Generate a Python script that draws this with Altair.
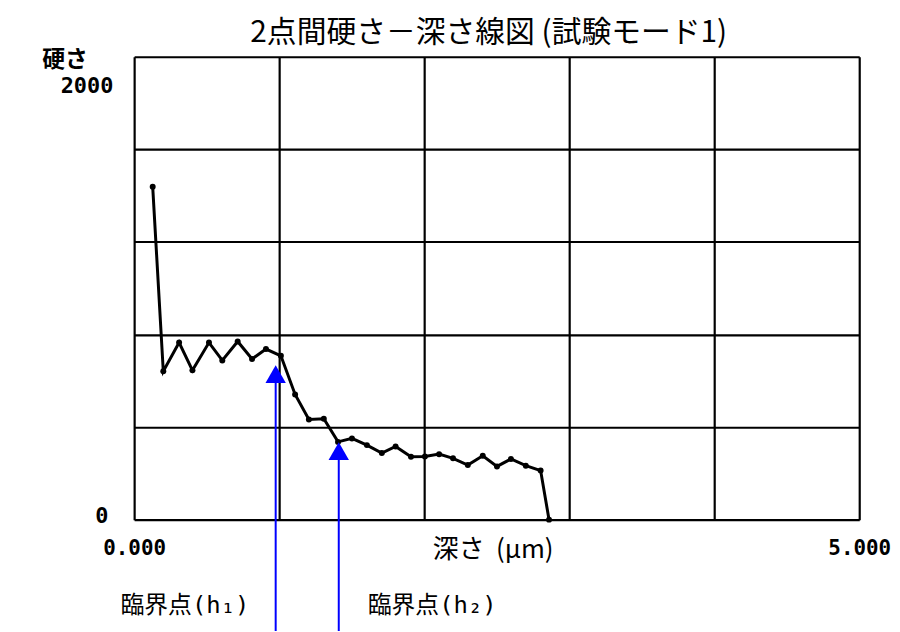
import altair as alt
import pandas as pd

# depth (μm) and hardness
depth = [0.128, 0.201, 0.310, 0.402, 0.516, 0.608, 0.714, 0.813, 0.909, 1.012,
         1.110, 1.205, 1.308, 1.406, 1.502, 1.605, 1.708, 1.803, 1.909, 2.005,
         2.103, 2.199, 2.301, 2.404, 2.502, 2.598, 2.701, 2.803, 2.861]
hardness = [1438, 641, 765, 645, 765, 688, 770, 694, 737, 708,
            541, 433, 436, 336, 351, 322, 288, 316, 272, 273,
            283, 265, 236, 276, 230, 262, 233, 212, 0]

# critical points (arrows)
crit_depth = [0.976, 1.411]
crit_head = [629, 296]
crit_label = ["臨界点(h₁)", "臨界点(h₂)"]
crit_label_x = [0.35, 2.055]

# y tick labels
ytick_vals = [0, 2000]
ytick_text = ["0", "2000"]

xgrid = [0, 1, 2, 3, 4, 5]
ygrid = [0, 400, 800, 1200, 1600, 2000]

curve = pd.DataFrame({"depth": depth, "hardness": hardness})
crit = pd.DataFrame({"d": crit_depth, "head": crit_head, "label": crit_label, "lx": crit_label_x})
yt = pd.DataFrame({"v": ytick_vals, "t": ytick_text})

MONO = "DejaVu Sans Mono"
JP = "Noto Sans CJK JP"
MIX = "DejaVu Sans Mono, Noto Sans CJK JP"

xscale = alt.Scale(domain=[0, 5], nice=False, zero=False)
yscale = alt.Scale(domain=[0, 2000], nice=False)

xaxis = alt.Axis(values=xgrid, grid=True, gridColor="black", gridWidth=2.2, gridOpacity=1,
                 ticks=False, tickSize=0, domain=False,
                 labelExpr="datum.value == 0 || datum.value == 5 ? format(datum.value, '.3f') : ''",
                 labelFlush=False, labelFont=MONO, labelFontWeight="bold", labelFontSize=21,
                 labelColor="black", labelBaseline="middle", labelPadding=29,
                 title="深さ\u00a0\u00a0(μm)", titleFont=JP, titleFontSize=26, titleFontWeight="normal",
                 titleColor="black", titleX=361, titleY=30, titleBaseline="middle",
                 titleAlign="center", titleAnchor="start")
yaxis = alt.Axis(values=ygrid, grid=True, gridColor="black", gridWidth=2.2, gridOpacity=1,
                 ticks=False, tickSize=0, domain=False, labels=False,
                 title="硬さ", titleFont=JP, titleFontSize=23, titleFontWeight="bold",
                 titleColor="black", titleAngle=0, titleX=-70, titleY=3,
                 titleBaseline="middle", titleAlign="center")

base = alt.Chart(curve)

line = base.mark_line(color="black", strokeWidth=3).encode(
    x=alt.X("depth:Q", scale=xscale, axis=xaxis),
    y=alt.Y("hardness:Q", scale=yscale, axis=yaxis),
)
pts = base.mark_point(filled=True, color="black", size=36, opacity=1).encode(
    x=alt.X("depth:Q", scale=xscale),
    y=alt.Y("hardness:Q", scale=yscale),
)

arrow_line = alt.Chart(crit).mark_rule(color="#0000ff", strokeWidth=2, clip=False).encode(
    x=alt.X("d:Q", scale=xscale),
    y=alt.Y("head:Q", scale=yscale),
    y2=alt.value(590),
)
arrow_head = alt.Chart(crit).mark_point(shape="triangle-up", filled=True, color="#0000ff",
                                         size=420, opacity=1, clip=False).encode(
    x=alt.X("d:Q", scale=xscale),
    y=alt.Y("head:Q", scale=yscale),
)
crit_text = alt.Chart(crit).mark_text(font=MIX, fontSize=24, color="black", align="center",
                                       baseline="middle").encode(
    x=alt.X("lx:Q", scale=xscale),
    y=alt.value(553),
    text="label:N",
)

ytop = alt.Chart(yt).transform_filter("datum.v == 2000").mark_text(
    font=MONO, fontWeight="bold", fontSize=22, color="black", align="right",
    baseline="middle", dy=29).encode(
    x=alt.value(-21), y=alt.Y("v:Q", scale=yscale), text="t:N")
ybot = alt.Chart(yt).transform_filter("datum.v == 0").mark_text(
    font=MONO, fontWeight="bold", fontSize=22, color="black", align="right",
    baseline="middle", dy=-4).encode(
    x=alt.value(-26), y=alt.Y("v:Q", scale=yscale), text="t:N")

chart = alt.layer(line, pts, arrow_line, arrow_head, crit_text, ytop, ybot).properties(
    width=730, height=466,
    title=alt.TitleParams("2点間硬さ－深さ線図 (試験モード1)", font=JP, fontSize=30,
                          fontWeight="normal", color="black", offset=1, dx=-8),
    autosize=alt.AutoSizeParams(type="none"),
    padding={"left": 127, "top": 47, "right": 33, "bottom": 110},
).configure_view(stroke="black", strokeWidth=3).configure(background="white")

chart.save("out.html", embed_options={"renderer": "svg", "actions": False})
